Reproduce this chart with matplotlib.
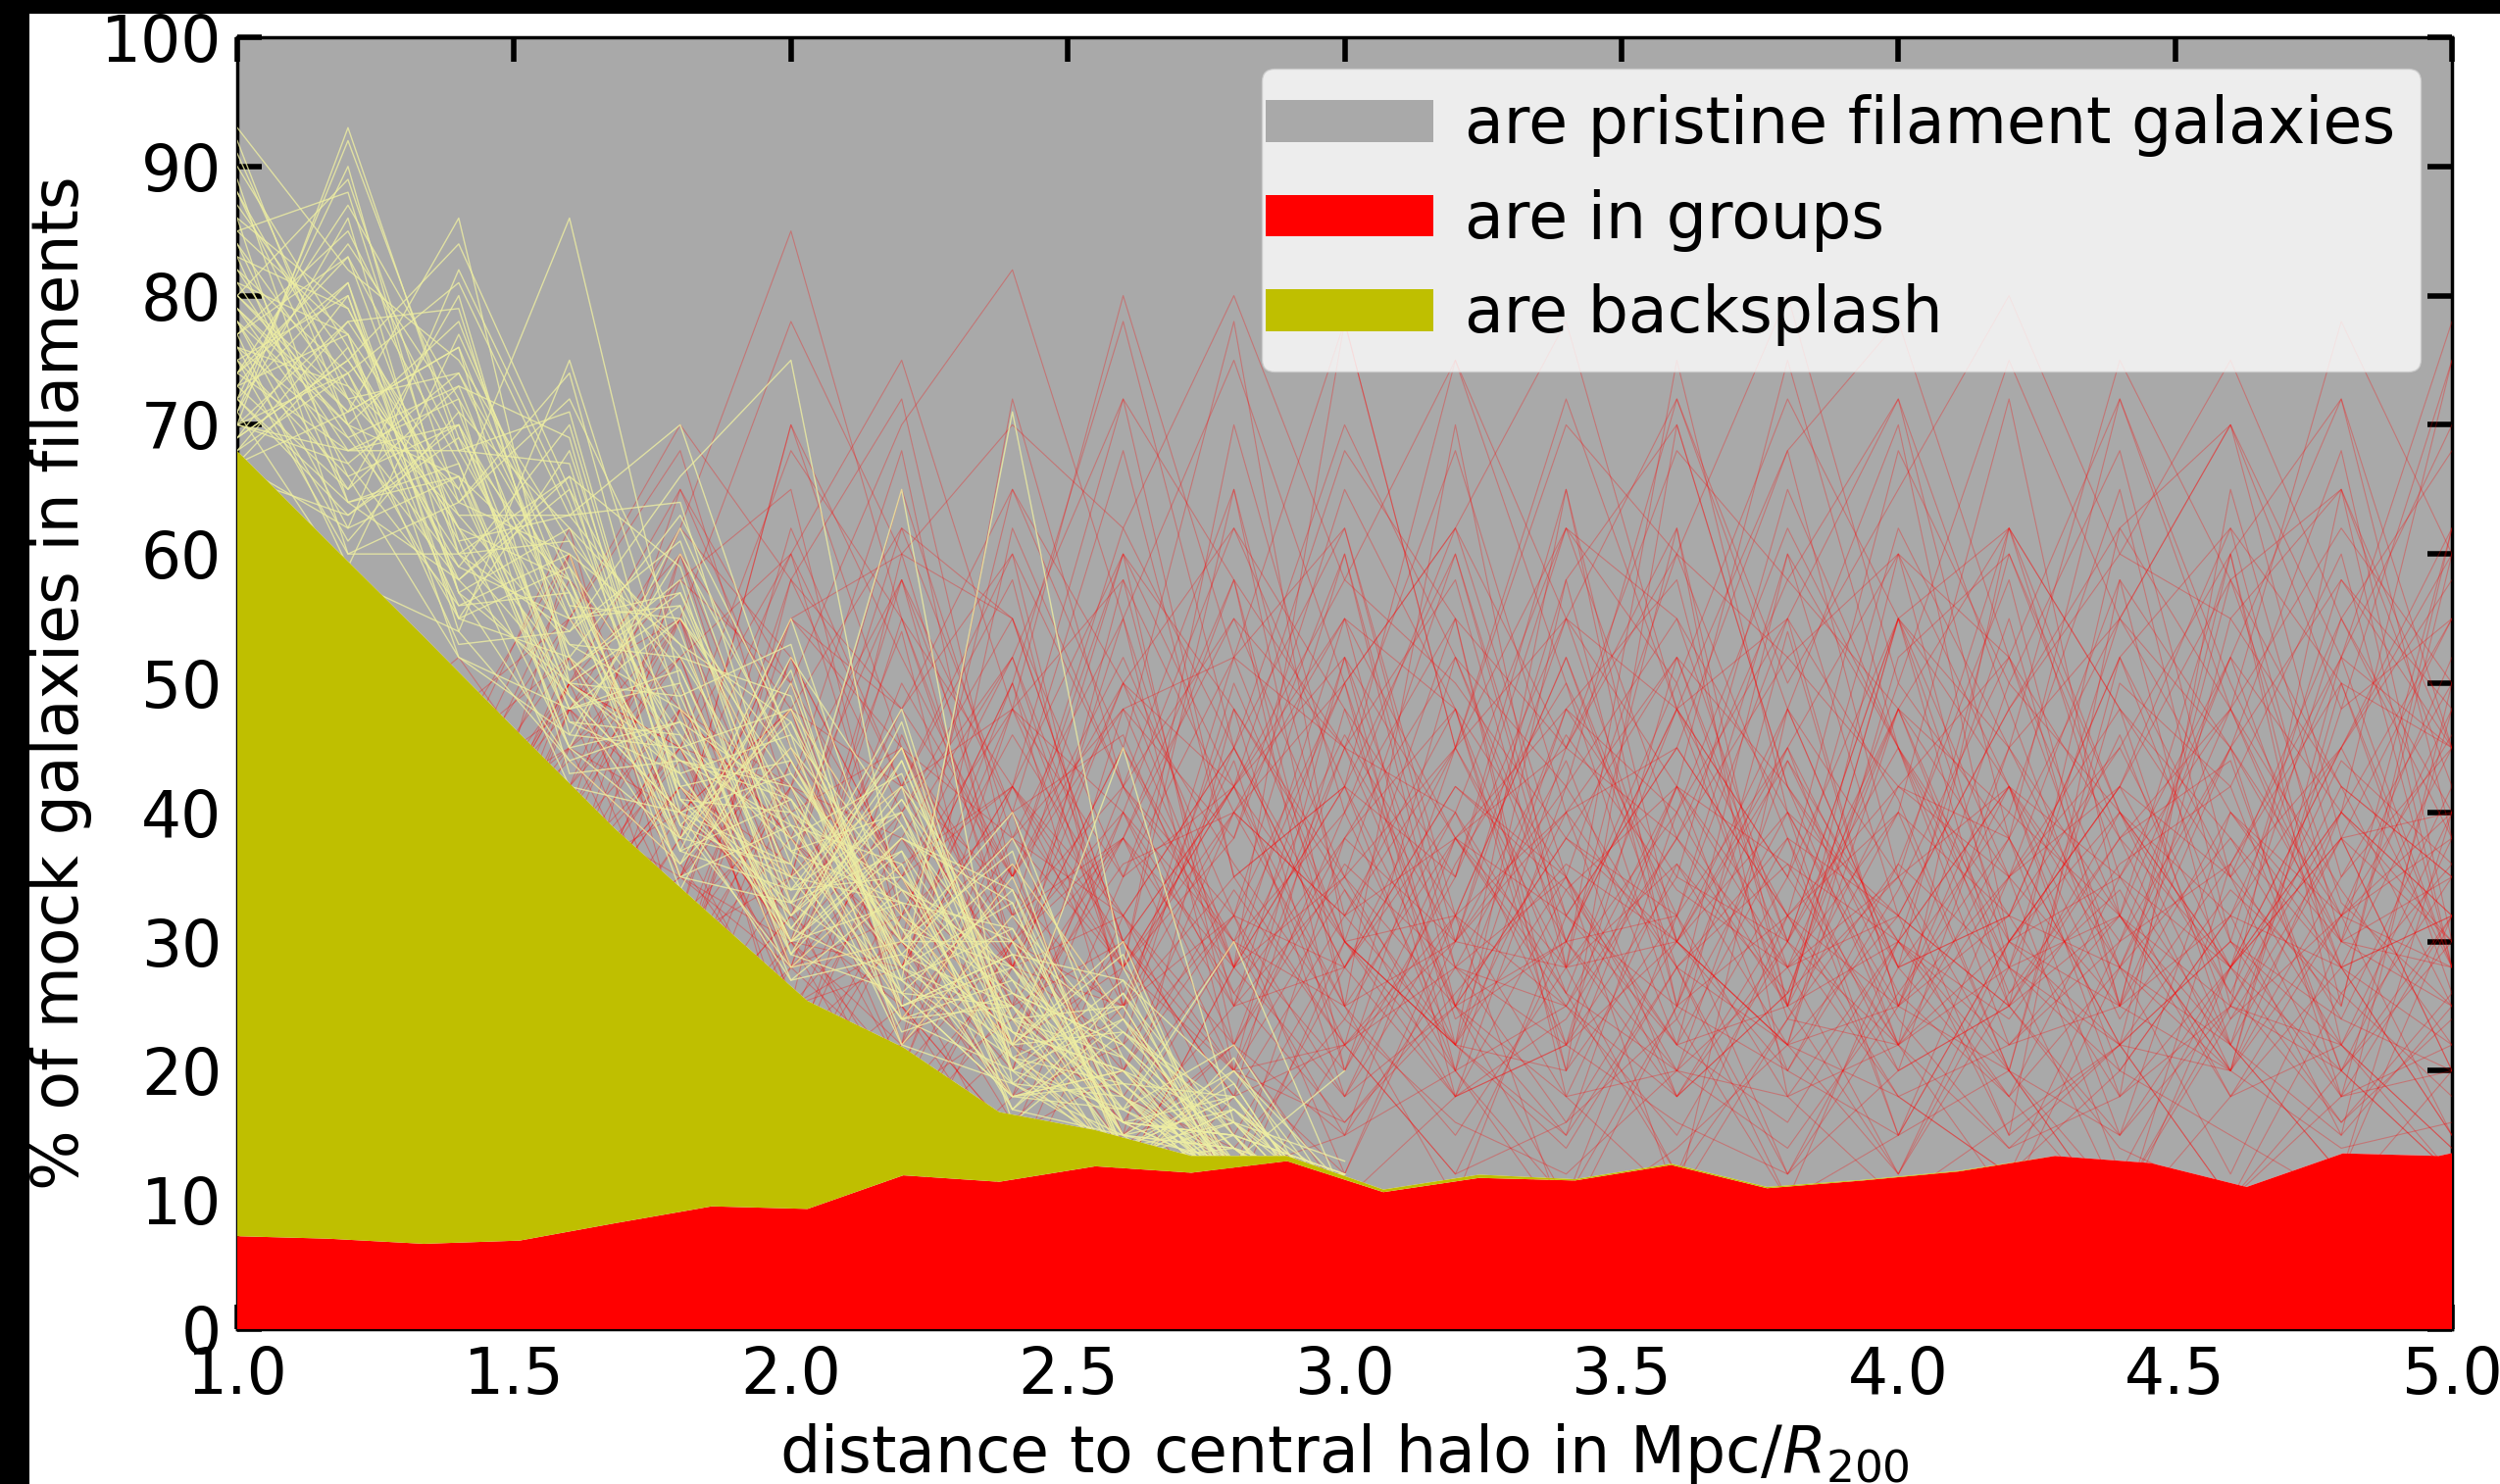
import numpy as np
import matplotlib
matplotlib.use('Agg')
import matplotlib.pyplot as plt
from matplotlib.patches import Patch, Rectangle
from matplotlib.legend_handler import HandlerPatch
from matplotlib.ticker import MultipleLocator

# stacked fractions, one value per radial bin
bin_centres = [0.990, 1.163, 1.337, 1.510, 1.683, 1.857, 2.030, 2.203, 2.376, 2.550,
               2.723, 2.896, 3.070, 3.243, 3.416, 3.590, 3.763, 3.936, 4.109, 4.283,
               4.456, 4.629, 4.803, 4.976, 5.149]
groups = [7.2, 7.0, 6.6, 6.85, 8.2, 9.5, 9.3, 11.9, 11.4, 12.6,
          12.1, 13.0, 10.6, 11.7, 11.5, 12.7, 10.9, 11.5, 12.2, 13.4,
          12.85, 11.0, 13.6, 13.4, 15.0]
backsplash = [61.2, 54.0, 47.0, 39.25, 30.5, 22.5, 16.1, 9.9, 5.4, 2.8,
              1.3, 0.4, 0.2, 0.25, 0.1, 0.1, 0.1, 0.05, 0.05, 0.0,
              0.0, 0.0, 0.0, 0.0, 0.0]
pristine = list(100 - np.array(groups) - np.array(backsplash))

# individual mock realisations, sampled every 0.2
run_x = [1.0, 1.2, 1.4, 1.6, 1.8, 2.0, 2.2, 2.4, 2.6, 2.8, 3.0,
         3.2, 3.4, 3.6, 3.8, 4.0, 4.2, 4.4, 4.6, 4.8, 5.0]

backsplash_runs = [
    [72, 64, 58, 49, 40, 33, 27, 21, 16, 12, 8],
    [78, 70, 55, 52, 38, 36, 24, 25, 14, 13, 6],
    [69, 75, 62, 45, 47, 30, 33, 19, 18, 10, 9],
    [84, 66, 70, 55, 42, 44, 28, 22, 12, 15, 7],
    [75, 60, 64, 60, 35, 39, 36, 18, 20, 11, 10],
    [81, 77, 52, 48, 50, 28, 30, 30, 15, 9, 5],
    [70, 68, 72, 43, 44, 41, 23, 26, 22, 14, 8],
    [88, 73, 60, 66, 37, 34, 40, 20, 17, 12, 11],
    [74, 81, 57, 50, 56, 29, 26, 34, 13, 16, 7],
    [67, 62, 66, 58, 39, 47, 31, 17, 24, 10, 9],
    [79, 71, 76, 46, 45, 32, 44, 23, 16, 18, 6],
    [86, 79, 63, 63, 52, 38, 25, 28, 19, 11, 12],
    [71, 58, 54, 44, 36, 45, 34, 21, 14, 13, 8],
    [77, 85, 68, 53, 48, 27, 29, 38, 21, 9, 10],
    [92, 70, 59, 70, 41, 40, 22, 19, 26, 15, 5],
    [73, 65, 80, 51, 58, 33, 37, 24, 12, 20, 9],
    [82, 74, 56, 57, 34, 50, 27, 31, 18, 12, 7],
    [68, 78, 65, 47, 43, 31, 42, 16, 23, 14, 11],
    [76, 61, 71, 62, 53, 35, 24, 27, 15, 17, 8],
    [85, 88, 61, 42, 40, 43, 32, 22, 29, 10, 6],
    [70, 67, 74, 59, 46, 29, 38, 33, 14, 16, 13],
    [80, 72, 53, 54, 61, 37, 26, 18, 20, 13, 7],
    [74, 83, 67, 45, 38, 48, 35, 25, 17, 22, 9],
    [90, 76, 58, 65, 49, 30, 47, 20, 13, 11, 10],
    [66, 63, 69, 50, 44, 39, 28, 36, 24, 15, 6],
    [79, 70, 78, 56, 37, 55, 30, 23, 16, 12, 12],
    [72, 90, 60, 61, 51, 32, 41, 26, 19, 18, 8],
    [83, 64, 66, 48, 55, 42, 25, 29, 27, 10, 7],
    [69, 80, 55, 68, 42, 35, 33, 17, 15, 14, 9],
    [76, 69, 73, 52, 63, 46, 22, 32, 22, 12, 5],
    [87, 75, 62, 58, 39, 28, 36, 21, 13, 17, 11],
    [71, 86, 57, 44, 47, 41, 30, 40, 18, 13, 8],
    [78, 62, 82, 64, 41, 34, 45, 24, 25, 11, 10],
    [73, 77, 64, 72, 54, 31, 27, 19, 14, 19, 6],
    [81, 68, 70, 49, 36, 52, 39, 27, 21, 12, 9],
    [68, 74, 59, 55, 57, 36, 24, 35, 16, 15, 12],
    [93, 82, 75, 61, 45, 38, 43, 22, 30, 10, 7],
    [75, 66, 52, 46, 60, 44, 29, 18, 17, 13, 8],
    [70, 93, 68, 67, 40, 27, 34, 30, 23, 16, 10],
    [84, 72, 63, 53, 52, 49, 26, 25, 12, 21, 6],
    [77, 59, 77, 58, 35, 33, 48, 21, 19, 11, 9],
    [72, 81, 54, 75, 48, 40, 31, 28, 15, 14, 11],
    [80, 71, 86, 50, 43, 30, 37, 17, 26, 12, 7],
    [67, 76, 61, 63, 70, 45, 28, 33, 14, 18, 8],
    [89, 64, 67, 47, 46, 37, 40, 23, 20, 10, 12],
    [74, 87, 72, 57, 38, 51, 25, 29, 16, 15, 5],
    [82, 69, 58, 66, 59, 34, 35, 20, 24, 13, 9],
    [70, 78, 79, 52, 44, 42, 30, 37, 13, 17, 10],
    [76, 73, 65, 86, 50, 29, 44, 24, 18, 11, 6],
    [86, 60, 60, 54, 66, 75, 32, 26, 22, 14, 8],
    [73, 84, 71, 49, 40, 36, 65, 19, 15, 20, 11],
    [79, 67, 56, 60, 53, 47, 27, 71, 28, 12, 7],
    [69, 75, 84, 65, 42, 32, 39, 22, 45, 16, 9],
    [83, 79, 62, 51, 57, 40, 34, 28, 17, 30, 10],
    [71, 92, 69, 57, 45, 48, 28, 24, 21, 13, 20],
    [78, 65, 73, 69, 39, 35, 42, 30, 14, 18, 8],
    [88, 70, 66, 45, 62, 43, 31, 21, 25, 11, 6],
    [75, 80, 57, 62, 47, 30, 38, 34, 16, 15, 12],
    [67, 71, 76, 55, 56, 39, 26, 18, 19, 12, 9],
    [80, 89, 64, 74, 43, 46, 35, 27, 13, 14, 7],
    [72, 63, 70, 48, 51, 33, 45, 22, 23, 17, 10],
    [85, 77, 55, 59, 37, 41, 29, 25, 18, 10, 8],
    [70, 74, 81, 63, 64, 37, 33, 31, 15, 13, 11],
    [77, 83, 60, 50, 49, 53, 24, 20, 27, 19, 6],
    [74, 68, 68, 71, 41, 31, 41, 29, 12, 12, 9],
    [91, 72, 74, 56, 55, 44, 30, 23, 20, 16, 7],
]

group_runs = [
    [30, 22, 38, 45, 28, 52, 35, 18, 40, 62, 48, 25, 10, 32, 55, 41, 20, 8, 36, 50, 28],
    [25, 35, 28, 50, 60, 33, 15, 30, 25, 45, 70, 52, 30, 18, 26, 48, 62, 35, 22, 12, 40],
    [40, 30, 45, 32, 20, 42, 58, 40, 12, 28, 35, 20, 45, 60, 38, 15, 30, 42, 58, 33, 25],
    [22, 28, 34, 40, 55, 25, 30, 65, 45, 30, 15, 38, 25, 42, 30, 55, 35, 12, 28, 45, 60],
    [35, 40, 30, 25, 38, 70, 45, 28, 55, 20, 40, 62, 35, 10, 48, 28, 40, 65, 30, 22, 35],
    [28, 24, 40, 52, 35, 30, 22, 48, 35, 58, 25, 30, 55, 42, 20, 36, 58, 25, 45, 68, 30],
    [42, 36, 25, 48, 62, 85, 55, 30, 20, 40, 32, 48, 22, 35, 65, 45, 25, 38, 20, 40, 55],
    [20, 32, 45, 30, 42, 35, 62, 40, 68, 35, 22, 12, 30, 48, 25, 60, 42, 30, 52, 28, 15],
    [36, 28, 30, 60, 38, 48, 25, 15, 35, 52, 45, 68, 40, 28, 12, 25, 50, 68, 35, 55, 40],
    [26, 38, 42, 35, 50, 20, 40, 55, 30, 12, 38, 30, 58, 70, 42, 30, 18, 35, 48, 30, 62],
    [32, 44, 28, 40, 25, 58, 72, 35, 48, 38, 60, 25, 15, 40, 55, 72, 38, 22, 30, 58, 45],
    [45, 30, 36, 55, 45, 30, 28, 50, 78, 45, 28, 42, 35, 22, 38, 20, 45, 55, 70, 38, 20],
    [24, 20, 32, 28, 60, 48, 35, 22, 40, 30, 50, 18, 42, 55, 30, 48, 28, 10, 25, 42, 35],
    [38, 42, 50, 38, 32, 62, 42, 58, 25, 48, 20, 35, 65, 30, 48, 35, 62, 40, 22, 15, 50],
    [30, 35, 25, 45, 40, 28, 55, 32, 60, 22, 45, 58, 28, 75, 40, 25, 35, 58, 45, 30, 25],
    [28, 40, 38, 30, 48, 38, 25, 72, 42, 55, 35, 25, 48, 40, 62, 45, 30, 25, 60, 72, 38],
    [44, 26, 42, 60, 35, 55, 45, 30, 50, 28, 78, 45, 30, 20, 35, 68, 50, 40, 28, 45, 62],
    [34, 38, 28, 35, 55, 40, 20, 42, 28, 70, 40, 22, 48, 58, 25, 30, 42, 18, 65, 35, 50],
    [22, 30, 44, 32, 42, 30, 48, 35, 62, 45, 30, 55, 20, 70, 42, 22, 62, 48, 38, 28, 32],
    [40, 34, 30, 48, 28, 25, 60, 55, 30, 18, 48, 35, 62, 38, 25, 55, 30, 35, 52, 72, 45],
    [28, 42, 36, 38, 58, 65, 30, 20, 48, 52, 62, 30, 40, 45, 68, 35, 15, 58, 25, 40, 30],
    [36, 30, 48, 55, 68, 40, 45, 38, 28, 65, 25, 70, 28, 30, 22, 48, 40, 32, 60, 25, 62],
    [20, 44, 30, 35, 40, 48, 22, 62, 42, 25, 52, 38, 45, 62, 18, 30, 55, 25, 20, 52, 45],
    [46, 32, 48, 40, 52, 30, 58, 28, 22, 50, 30, 22, 65, 25, 48, 70, 30, 42, 35, 18, 48],
    [32, 38, 35, 50, 32, 58, 40, 52, 72, 35, 42, 60, 30, 48, 35, 22, 38, 72, 50, 32, 28],
    [26, 40, 34, 32, 45, 25, 35, 48, 28, 38, 65, 48, 20, 42, 75, 45, 28, 22, 55, 65, 42],
    [38, 28, 44, 62, 30, 42, 68, 28, 45, 78, 30, 32, 52, 28, 22, 52, 60, 38, 28, 40, 75],
    [42, 36, 30, 35, 60, 38, 28, 48, 40, 22, 38, 52, 42, 72, 48, 28, 32, 52, 62, 30, 35],
    [24, 30, 42, 48, 38, 70, 52, 35, 60, 42, 55, 22, 35, 18, 32, 62, 45, 28, 22, 48, 55],
    [30, 40, 32, 50, 65, 45, 32, 25, 38, 58, 20, 45, 72, 48, 55, 25, 20, 50, 42, 60, 28],
    [35, 32, 46, 28, 35, 48, 42, 60, 25, 32, 60, 28, 22, 52, 28, 40, 72, 32, 20, 35, 45],
    [20, 28, 34, 45, 52, 28, 30, 38, 55, 28, 42, 75, 50, 32, 60, 32, 25, 62, 48, 28, 32],
    [44, 38, 32, 52, 28, 55, 60, 32, 42, 65, 32, 38, 28, 62, 25, 55, 42, 20, 32, 52, 70],
    [28, 26, 40, 38, 48, 42, 35, 52, 30, 42, 52, 20, 58, 25, 45, 22, 35, 45, 60, 22, 40],
    [34, 44, 36, 50, 55, 32, 45, 25, 58, 25, 35, 60, 32, 45, 32, 42, 52, 32, 25, 65, 28],
    [40, 34, 28, 42, 62, 52, 28, 42, 32, 45, 62, 32, 25, 38, 52, 60, 28, 55, 40, 32, 52],
    [26, 30, 46, 60, 35, 28, 50, 35, 52, 32, 28, 45, 55, 30, 22, 32, 48, 25, 58, 42, 25],
    [36, 40, 32, 36, 45, 42, 38, 28, 38, 55, 45, 25, 38, 52, 42, 28, 60, 40, 28, 55, 38],
    [30, 42, 38, 48, 40, 60, 32, 50, 28, 42, 22, 52, 32, 25, 60, 45, 32, 52, 35, 25, 60],
    [42, 30, 32, 42, 55, 35, 65, 38, 48, 28, 55, 38, 48, 35, 30, 55, 25, 32, 52, 40, 32],
    [25, 22, 28, 20, 30, 15, 32, 22, 12, 28, 18, 32, 8, 25, 20, 15, 30, 22, 10, 26, 18],
    [30, 26, 22, 30, 22, 32, 18, 28, 25, 10, 30, 22, 20, 32, 12, 28, 18, 8, 28, 20, 30],
    [20, 30, 25, 26, 18, 25, 28, 12, 32, 22, 15, 28, 25, 18, 30, 22, 10, 28, 20, 32, 15],
    [28, 24, 30, 18, 32, 20, 22, 32, 18, 30, 25, 10, 32, 22, 25, 12, 28, 20, 32, 15, 25],
    [22, 28, 32, 28, 20, 30, 15, 25, 30, 18, 32, 22, 15, 28, 10, 30, 22, 32, 18, 28, 22],
    [32, 34, 22, 24, 26, 22, 30, 18, 22, 32, 12, 30, 28, 12, 32, 20, 25, 15, 25, 22, 12],
    [26, 20, 30, 32, 15, 28, 20, 30, 15, 25, 28, 18, 22, 30, 22, 25, 32, 28, 12, 30, 28],
    [24, 30, 26, 20, 30, 18, 32, 22, 28, 20, 22, 32, 18, 20, 28, 32, 15, 22, 30, 18, 20],
    [34, 26, 32, 26, 22, 32, 25, 15, 20, 32, 18, 25, 30, 32, 18, 22, 28, 32, 22, 12, 32],
    [28, 32, 24, 28, 32, 25, 12, 28, 32, 15, 30, 20, 25, 15, 30, 18, 22, 25, 32, 28, 15],
    [30, 28, 36, 40, 28, 42, 22, 38, 32, 45, 28, 40, 22, 42, 28, 35, 42, 28, 45, 32, 38],
    [36, 38, 30, 32, 42, 30, 40, 28, 45, 28, 42, 25, 38, 32, 45, 28, 32, 45, 28, 40, 32],
    [26, 32, 40, 28, 35, 45, 28, 42, 25, 40, 32, 45, 28, 40, 25, 42, 35, 25, 40, 28, 45],
    [40, 30, 32, 42, 30, 35, 45, 32, 38, 25, 45, 30, 42, 28, 38, 32, 25, 40, 32, 45, 28],
    [32, 36, 28, 35, 45, 28, 32, 40, 28, 42, 25, 38, 32, 45, 32, 25, 42, 35, 28, 38, 40],
    [22, 18, 25, 30, 20, 12, 24, 35, 18, 8, 22, 28, 35, 20, 14, 26, 38, 22, 10, 20, 32],
    [28, 32, 20, 14, 28, 38, 30, 16, 25, 35, 42, 20, 10, 25, 32, 18, 12, 30, 36, 22, 14],
    [18, 25, 32, 22, 16, 30, 20, 10, 28, 40, 25, 15, 28, 36, 22, 12, 30, 42, 26, 16, 24],
    [34, 28, 18, 26, 38, 22, 14, 30, 38, 20, 12, 32, 40, 18, 26, 35, 20, 15, 28, 38, 20],
    [24, 20, 30, 36, 24, 18, 34, 26, 14, 22, 36, 28, 16, 30, 40, 24, 14, 22, 34, 26, 36],
    [30, 35, 26, 20, 32, 40, 28, 18, 30, 42, 30, 22, 14, 28, 36, 30, 20, 10, 24, 38, 30],
    [20, 26, 36, 28, 22, 35, 42, 25, 16, 30, 20, 38, 26, 12, 24, 40, 32, 18, 28, 16, 26],
    [36, 30, 22, 34, 44, 26, 18, 36, 24, 12, 28, 42, 34, 22, 16, 30, 24, 36, 42, 20, 12],
    [26, 34, 40, 30, 20, 28, 36, 42, 30, 20, 34, 18, 24, 38, 28, 12, 26, 34, 18, 32, 40],
    [32, 22, 28, 38, 30, 14, 22, 30, 40, 26, 16, 26, 36, 30, 44, 26, 18, 28, 38, 24, 20],
    [30, 38, 45, 52, 40, 48, 62, 55, 35, 42, 58, 50, 38, 30, 45, 60, 52, 38, 48, 62, 50],
    [40, 35, 28, 48, 58, 50, 35, 42, 60, 48, 35, 45, 62, 55, 40, 32, 48, 60, 55, 42, 35],
    [28, 45, 52, 40, 35, 55, 48, 60, 42, 32, 50, 62, 45, 38, 58, 48, 35, 42, 62, 50, 45],
    [35, 30, 40, 58, 48, 38, 58, 35, 50, 62, 42, 35, 55, 48, 35, 55, 62, 48, 35, 45, 58],
    [42, 48, 35, 42, 52, 60, 42, 48, 58, 40, 55, 48, 35, 60, 52, 42, 38, 55, 45, 58, 48],
    [30, 40, 35, 50, 45, 60, 75, 48, 80, 52, 78, 45, 70, 60, 80, 50, 75, 55, 70, 48, 75],
    [35, 28, 45, 40, 65, 50, 70, 82, 55, 75, 50, 62, 78, 48, 68, 78, 52, 72, 48, 78, 60],
    [25, 35, 40, 45, 55, 78, 60, 70, 62, 80, 58, 75, 55, 72, 50, 65, 80, 60, 75, 55, 68],
    [38, 30, 42, 55, 70, 58, 48, 65, 50, 42, 68, 55, 45, 68, 58, 72, 48, 62, 70, 52, 78],
    [28, 42, 38, 50, 45, 68, 55, 42, 72, 58, 45, 40, 62, 50, 72, 55, 45, 75, 58, 65, 45],
    [20, 15, 22, 18, 25, 12, 20, 15, 8, 18, 22, 12, 16, 24, 10, 15, 20, 8, 18, 22, 14],
    [18, 22, 15, 20, 12, 22, 10, 18, 20, 12, 15, 20, 8, 14, 22, 18, 12, 20, 15, 10, 20],
    [24, 18, 20, 14, 20, 18, 25, 12, 15, 22, 10, 18, 22, 16, 12, 20, 25, 14, 10, 18, 22],
    [16, 24, 18, 22, 16, 26, 14, 22, 18, 14, 24, 16, 12, 20, 18, 10, 16, 22, 20, 14, 16],
    [22, 20, 26, 16, 22, 14, 18, 24, 12, 20, 16, 25, 18, 10, 24, 22, 14, 18, 25, 20, 12],
    [34, 25, 40, 30, 48, 22, 38, 52, 26, 44, 18, 36, 50, 24, 40, 15, 35, 48, 22, 38, 55],
    [26, 36, 22, 42, 28, 50, 24, 36, 15, 48, 34, 22, 40, 52, 30, 45, 22, 30, 45, 18, 32],
    [38, 22, 34, 26, 40, 32, 54, 20, 42, 30, 40, 55, 18, 36, 26, 50, 38, 15, 40, 30, 48],
    [22, 40, 28, 36, 22, 44, 30, 46, 32, 20, 52, 28, 44, 22, 54, 25, 45, 32, 20, 50, 26],
    [30, 26, 42, 24, 34, 20, 46, 28, 50, 36, 24, 40, 26, 48, 32, 40, 20, 52, 30, 24, 42],
    [40, 32, 28, 38, 30, 52, 35, 22, 38, 28, 46, 32, 52, 30, 20, 34, 52, 28, 48, 34, 22],
    [24, 30, 36, 44, 36, 24, 42, 34, 24, 52, 30, 18, 34, 42, 36, 22, 30, 40, 26, 44, 36],
    [36, 44, 26, 30, 42, 36, 20, 40, 46, 26, 38, 48, 26, 20, 44, 30, 42, 24, 36, 52, 28],
    [28, 22, 38, 34, 26, 44, 32, 50, 20, 34, 22, 30, 46, 34, 28, 48, 26, 38, 44, 20, 38],
    [32, 38, 30, 24, 48, 28, 38, 24, 36, 40, 50, 24, 30, 50, 24, 36, 28, 46, 24, 32, 46],
]

labels = ['are pristine filament galaxies', 'are in groups', 'are backsplash']
colours = {'pristine': 'darkgray', 'groups': 'red', 'backsplash': 'y'}

plt.rcParams['font.family'] = 'DejaVu Sans'
plt.rcParams['font.size'] = 46.7

fig = plt.figure(figsize=(25.5, 15.14), dpi=100)
ax = fig.add_axes([0.0949, 0.1044, 0.8859, 0.8705])

polys = ax.stackplot(bin_centres, groups, backsplash, pristine,
                     colors=[colours['groups'], colours['backsplash'], colours['pristine']],
                     linewidth=0)
# grey sits behind the ticks and the thin lines, the other two cover them
polys[2].set_zorder(0.5)
polys[0].set_zorder(3)
polys[1].set_zorder(3)

for run in group_runs:
    ax.plot(run_x[:len(run)], run, color='red', lw=0.8, alpha=0.3, zorder=2.6)
for run in backsplash_runs:
    ax.plot(run_x[:len(run)], run, color='#eeeea2', lw=1.0, alpha=0.8, zorder=2.7)

ax.set_xlim(1, 5)
ax.set_ylim(0, 100)
ax.xaxis.set_major_locator(MultipleLocator(0.5))
ax.yaxis.set_major_locator(MultipleLocator(10))
ax.tick_params(direction='in', top=True, right=True, length=18, width=4,
               pad=11.5, labelsize=46.5)
for s in ax.spines.values():
    s.set_linewidth(2.5)

ax.set_xlabel('distance to central halo in Mpc/$R_{200}$', labelpad=10)
ax.set_ylabel('% of mock galaxies in filaments', labelpad=6)


def wide_patch(legend, orig_handle, xdescent, ydescent, width, height, fontsize):
    shift = 0.33 * fontsize
    return Rectangle((-xdescent - shift, -ydescent), width + shift, height)


handles = [Patch(facecolor=colours['pristine'], edgecolor='none'),
           Patch(facecolor=colours['groups'], edgecolor='none'),
           Patch(facecolor=colours['backsplash'], edgecolor='none')]
leg = ax.legend(handles, labels, loc='upper right', fontsize=46.7,
                handlelength=2.31, handleheight=0.63, handletextpad=0.48,
                handler_map={Patch: HandlerPatch(patch_func=wide_patch)})
leg.set_zorder(5)

# dark border strips along the left and top edges
fig.add_artist(Rectangle((0, 0), 30 / 2550, 1, transform=fig.transFigure,
                         facecolor='black', edgecolor='none', zorder=10))
fig.add_artist(Rectangle((0, 1 - 14 / 1514), 1, 14 / 1514, transform=fig.transFigure,
                         facecolor='black', edgecolor='none', zorder=10))

fig.savefig('out.png', dpi=100)
